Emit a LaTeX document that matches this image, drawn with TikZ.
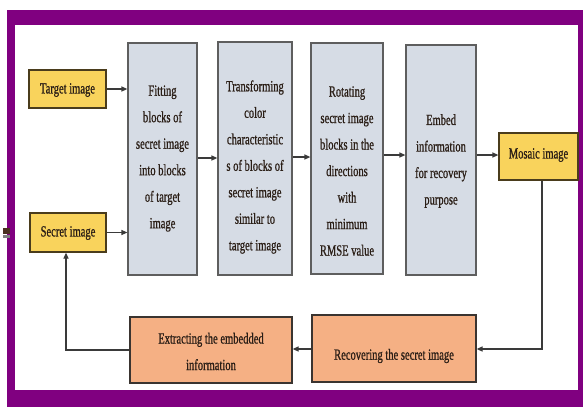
\documentclass[tikz,border=0pt]{standalone}
\usepackage{fontspec}
\setmainfont{Liberation Serif}
\newfontfamily\diafont[FakeStretch=0.68,FakeBold=0.8]{Liberation Serif}
\usetikzlibrary{arrows.meta}
\definecolor{framepurple}{HTML}{800080}
\definecolor{yfill}{HTML}{F9D35C}
\definecolor{ydraw}{HTML}{4A3C1C}
\definecolor{gfill}{HTML}{D6DCE5}
\definecolor{gdraw}{HTML}{5E5E5E}
\definecolor{ofill}{HTML}{F5B084}
\definecolor{odraw}{HTML}{3A3430}
\definecolor{txt}{HTML}{2A1E16}
\definecolor{linec}{HTML}{3A3A3A}
\definecolor{artc}{HTML}{4A3020}
\tikzset{
  ybox/.style={draw=ydraw, fill=yfill, line width=1.2pt, inner sep=0pt},
  gbox/.style={draw=gdraw, fill=gfill, line width=1.2pt, inner sep=0pt},
  obox/.style={draw=odraw, fill=ofill, line width=1.2pt, inner sep=0pt},
  lbl/.style={text=txt, align=center, inner sep=0pt, font=\diafont\fontsize{15.5}{26.5}\selectfont},
  arr/.style={draw=linec, line width=1.2pt, -{Triangle[length=6pt,width=5pt]}},
}
\begin{document}
\begin{tikzpicture}[x=1pt,y=-1pt]
\useasboundingbox (0,0) rectangle (583,407);
\fill[framepurple] (7,10) rectangle (583,407);
\fill[white] (15,25) rectangle (578,390);
\fill[artc] (3,228) rectangle (10,234);
\fill[gray] (3,235) rectangle (10,238);

\node[ybox, minimum width=77pt, minimum height=38pt] (target) at (67.5,89) {};
\node[ybox, minimum width=76pt, minimum height=39pt] (secret) at (68,232.5) {};
\node[gbox, minimum width=69pt, minimum height=232pt] (b1) at (162.5,159) {};
\node[gbox, minimum width=74pt, minimum height=233pt] (b2) at (255,158.5) {};
\node[gbox, minimum width=72pt, minimum height=231pt] (b3) at (347,158.5) {};
\node[gbox, minimum width=70pt, minimum height=230pt] (b4) at (441,160) {};
\node[ybox, minimum width=79pt, minimum height=47pt] (mosaic) at (538.5,156.5) {};
\node[obox, minimum width=162pt, minimum height=66pt] (extract) at (211,350) {};
\node[obox, minimum width=164pt, minimum height=67pt] (recover) at (394,348.5) {};

\node[lbl] (targett) at (67.5,90) {Target image};
\node[lbl] (secrett) at (68,233) {Secret image};
\node[lbl] (b1t) at (162.5,158.5) {Fitting\\blocks of\\secret image\\into blocks\\of target\\image};
\node[lbl] (b2t) at (255,167) {Transforming\\color\\characteristic\\s of blocks of\\secret image\\similar to\\target image};
\node[lbl] (b3t) at (347,171) {Rotating\\secret image\\blocks in the\\directions\\with\\minimum\\RMSE value};
\node[lbl] (b4t) at (441,161) {Embed\\information\\for recovery\\purpose};
\node[lbl] (mosaict) at (538.5,155) {Mosaic image};
\node[lbl] (extractt) at (211,351.5) {Extracting the embedded\\information};
\node[lbl] (recovert) at (394,356) {Recovering the secret image};

\draw[arr] (target.east) -- (target.east -| b1.west);
\draw[arr] (secret.east) -- (secret.east -| b1.west);
\draw[arr] ([yshift=1pt]b1.east) -- ([yshift=1pt]b1.east -| b2.west);
\draw[arr] ([yshift=1.5pt]b2.east) -- ([yshift=1.5pt]b2.east -| b3.west);
\draw[arr] ([yshift=3.5pt]b3.east) -- ([yshift=3.5pt]b3.east -| b4.west);
\draw[arr] ([yshift=5pt]b4.east) -- ([yshift=5pt]b4.east -| mosaic.west);

\coordinate (c1) at (542,349);
\coordinate (c2) at (66,350);
\draw[arr] (mosaic.south -| c1) -- (c1) -- (c1 -| recover.east);
\draw[arr] (recover.west |- c1) -- (extract.east |- c1);
\draw[arr] (extract.west |- c2) -- (c2) -- (c2 |- secret.south);
\end{tikzpicture}
\end{document}
